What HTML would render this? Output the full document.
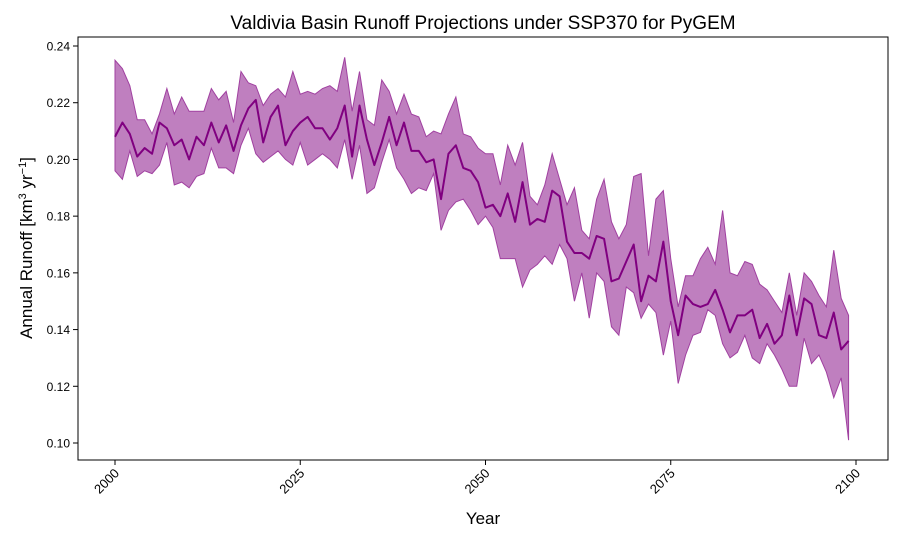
<!DOCTYPE html>
<html><head><meta charset="utf-8"><style>
body{margin:0;background:#fff;}
svg{display:block;font-family:"Liberation Sans","DejaVu Sans",sans-serif;}
</style></head><body>
<svg id="chart" width="900" height="540" viewBox="0 0 900 540">
<text x="483" y="29" font-size="19" text-anchor="middle">Valdivia Basin Runoff Projections under SSP370 for PyGEM</text>
<g id="plot"></g>
<rect x="78" y="37" width="810" height="423" fill="none" stroke="#000" stroke-width="1"/>
<g id="xt"></g>
<g id="yt"></g>
<text x="483" y="524" font-size="17" text-anchor="middle">Year</text>
<text transform="translate(32,248) rotate(-90)" font-size="17" text-anchor="middle">Annual Runoff [km<tspan baseline-shift="super" font-size="11">3</tspan> yr<tspan baseline-shift="super" font-size="11">−1</tspan>]</text>
</svg>
<script>
const startYear = 2000;
const meanVals = [.208,.213,.209,.201,.204,.202,.213,.211,.205,.207,.200,.208,.205,.213,.206,.212,.203,.212,.218,.221,.206,.215,.219,.205,.210,.213,.215,.211,.211,.207,.211,.219,.201,.219,.207,.198,.206,.215,.205,.213,.203,.203,.199,.200,.186,.202,.205,.197,.196,.192,.183,.184,.180,.188,.178,.192,.177,.179,.178,.189,.187,.171,.167,.167,.165,.173,.172,.157,.158,.164,.170,.150,.159,.157,.171,.150,.138,.152,.149,.148,.149,.154,.147,.139,.145,.145,.147,.137,.142,.135,.138,.152,.138,.151,.149,.138,.137,.146,.133,.136];
const upperVals = [.235,.232,.226,.214,.214,.209,.216,.225,.216,.222,.217,.217,.217,.225,.221,.224,.213,.231,.227,.226,.219,.223,.225,.222,.231,.223,.224,.223,.225,.226,.224,.236,.217,.231,.214,.212,.228,.224,.216,.223,.216,.215,.208,.210,.209,.216,.222,.209,.208,.204,.202,.202,.191,.205,.198,.206,.187,.184,.191,.202,.193,.184,.190,.175,.172,.186,.193,.178,.172,.177,.194,.195,.166,.186,.189,.165,.148,.159,.159,.165,.169,.163,.182,.160,.159,.164,.163,.156,.154,.150,.146,.160,.145,.160,.157,.152,.148,.168,.151,.145];
const lowerVals = [.196,.193,.203,.194,.196,.195,.198,.206,.191,.192,.190,.194,.195,.204,.197,.197,.195,.205,.211,.202,.199,.201,.203,.200,.198,.206,.198,.200,.202,.200,.197,.207,.193,.205,.188,.190,.199,.207,.197,.193,.188,.190,.189,.195,.175,.182,.185,.186,.182,.177,.180,.176,.165,.165,.165,.155,.161,.163,.166,.163,.170,.165,.150,.160,.144,.160,.157,.141,.138,.155,.153,.144,.149,.146,.131,.143,.121,.131,.138,.139,.147,.145,.135,.130,.132,.138,.130,.128,.135,.131,.126,.120,.120,.137,.128,.131,.125,.116,.123,.101];
const xTicks = [2000,2025,2050,2075,2100];
const yTicks = [0.10,0.12,0.14,0.16,0.18,0.20,0.22,0.24];

const NS="http://www.w3.org/2000/svg";
function X(yr){return 115+(yr-2000)*(856-115)/100;}
function Y(v){return 443-(v-0.10)*(443-46)/0.14;}
function mk(t,a,p){const e=document.createElementNS(NS,t);for(const k in a)e.setAttribute(k,a[k]);p.appendChild(e);return e;}
const plot=document.getElementById('plot');
let up=upperVals.map((v,i)=>X(startYear+i)+','+Y(v));
let lo=lowerVals.map((v,i)=>X(startYear+i)+','+Y(v)).reverse();
const band=mk('polygon',{points:up.concat(lo).join(' '),fill:'#bf7fbf',stroke:'#a040a0','stroke-width':1},plot);


const line=mk('polyline',{points:meanVals.map((v,i)=>X(startYear+i)+','+Y(v)).join(' '),fill:'none',stroke:'#800080','stroke-width':2,'stroke-linejoin':'round'},plot);


const xt=document.getElementById('xt');
xTicks.forEach(t=>{
  const x=X(t);
  mk('line',{x1:x,x2:x,y1:460,y2:465,stroke:'#000'},xt);
  const tx=mk('text',{x:0,y:0,'font-size':13,'text-anchor':'end',transform:`translate(${x+5},${474}) rotate(-45)`},xt);
  tx.textContent=t;
  
  
});
const yt=document.getElementById('yt');
yTicks.forEach(t=>{
  const y=Y(t);
  mk('line',{x1:73,x2:78,y1:y,y2:y,stroke:'#000'},yt);
  const tx=mk('text',{x:70,y:y+4.5,'font-size':12,'text-anchor':'end'},yt);
  tx.textContent=t.toFixed(2);
  
  
});
</script>
</body></html>
